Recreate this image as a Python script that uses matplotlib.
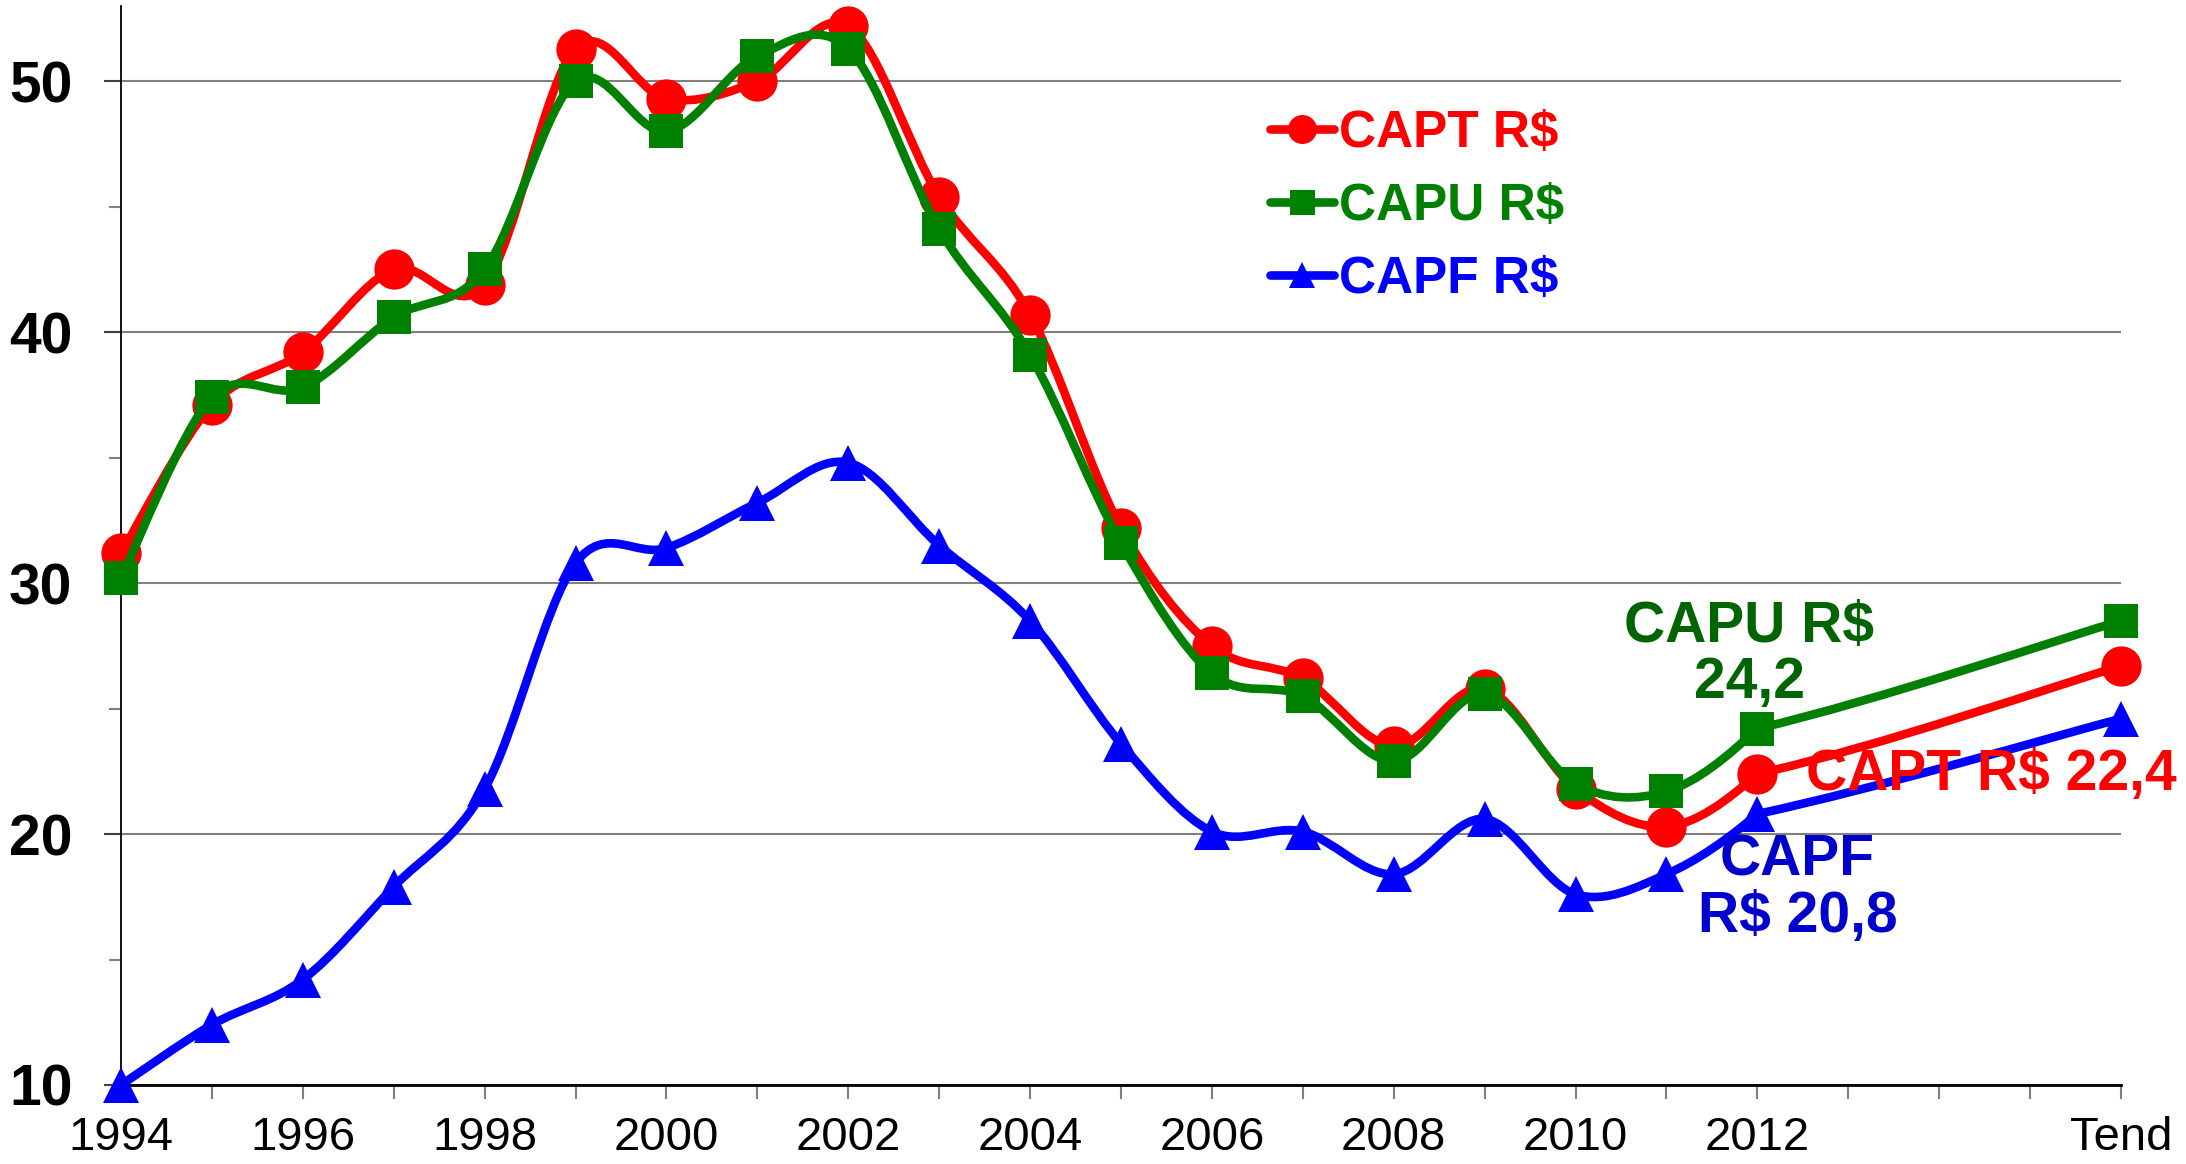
import numpy as np
import matplotlib
matplotlib.use("Agg")
import matplotlib.pyplot as plt
from matplotlib.path import Path
from matplotlib.patches import PathPatch
from matplotlib.lines import Line2D

plt.rcParams['font.family'] = ['Liberation Sans', 'DejaVu Sans']

# categories (2013-2015 are empty slots on the axis)
categories = ['1994', '1995', '1996', '1997', '1998', '1999', '2000', '2001', '2002', '2003',
              '2004', '2005', '2006', '2007', '2008', '2009', '2010', '2011', '2012',
              '2013', '2014', '2015', 'Tend']
tick_labels = ['1994', '', '1996', '', '1998', '', '2000', '', '2002', '', '2004', '', '2006', '',
               '2008', '', '2010', '', '2012', '', '', '', 'Tend']

capt = [31.2, 37.1, 39.2, 42.5, 41.9, 51.3, 49.3, 50.0, 52.2, 45.4, 40.7, 32.2, 27.5, 26.2,
        23.5, 25.8, 21.8, 20.3, 22.4, None, None, None, 26.7]
capu = [30.2, 37.4, 37.8, 40.6, 42.5, 50.0, 48.0, 51.0, 51.3, 44.1, 39.1, 31.6, 26.4, 25.5,
        22.9, 25.6, 22.0, 21.7, 24.2, None, None, None, 28.5]
capf = [10.0, 12.4, 14.2, 17.9, 21.8, 30.8, 31.4, 33.2, 34.8, 31.5, 28.5, 23.6, 20.1, 20.1,
        18.4, 20.6, 17.6, 18.4, 20.8, None, None, None, 24.6]

series = [('CAPT R$', capt, '#FF0000', 'o', 29),
          ('CAPU R$', capu, '#008000', 's', 25),
          ('CAPF R$', capf, '#0000FF', '^', 26)]


def smooth_path(xs, ys):
    # excel-like smoothed line: bezier control points worked out in point-number space,
    # then stretched over each segment's real width (matters across the empty years)
    verts = [(xs[0], ys[0])]
    codes = [Path.MOVETO]
    n = len(xs)
    for i in range(n - 1):
        a = max(i - 1, 0)
        b = min(i + 2, n - 1)
        w = xs[i + 1] - xs[i]
        c1 = (xs[i] + w * (i + 1 - a) / 6, ys[i] + (ys[i + 1] - ys[a]) / 6)
        c2 = (xs[i + 1] - w * (b - i) / 6, ys[i + 1] - (ys[b] - ys[i]) / 6)
        verts += [c1, c2, (xs[i + 1], ys[i + 1])]
        codes += [Path.CURVE4] * 3
    return Path(verts, codes)


fig = plt.figure(figsize=(21.86, 11.64), dpi=100)
ax = fig.add_axes([121 / 2186, 79 / 1164, 2000 / 2186, 1079 / 1164])

x_all = np.arange(len(categories))
handles = []
for k, (name, vals, color, marker, ms) in enumerate(series):
    v = np.array([np.nan if a is None else a for a in vals], dtype=float)
    ok = ~np.isnan(v)
    xs, ys = x_all[ok], v[ok]
    patch = PathPatch(smooth_path(xs, ys), facecolor='none', edgecolor=color, lw=6.2,
                      capstyle='round', joinstyle='round', zorder=3 + k, clip_on=False)
    ax.add_patch(patch)
    ax.plot(xs, ys, ls='none', marker=marker, markersize=ms, color=color,
            markeredgewidth=0, zorder=3.5 + k, clip_on=False)
    handles.append(Line2D([], [], color=color, lw=6.2, marker=marker, markersize=ms * 0.72,
                          markeredgewidth=0, solid_capstyle='round', label=name))

ax.set_xlim(0, len(categories) - 1)
ax.set_ylim(10, 53)

ax.set_xticks(x_all)
ax.set_xticklabels(tick_labels, fontsize=34)
ax.tick_params(axis='x', length=10, width=1.5, color='#808080', pad=12)

ax.set_yticks([10, 20, 30, 40, 50])
ax.set_yticklabels(['10', '20', '30', '40', '50'], fontsize=41, fontweight='bold')
ax.set_yticks([15, 25, 35, 45], minor=True)
ax.tick_params(axis='y', which='major', length=12, width=1.5, color='#404040', pad=23)
ax.tick_params(axis='y', which='minor', length=8.5, width=1.5, color='#808080')

ax.yaxis.grid(True, which='major', color='#808080', lw=1.5)
ax.set_axisbelow(True)
for s in ['top', 'right']:
    ax.spines[s].set_visible(False)
ax.spines['left'].set_linewidth(1.3)
ax.spines['bottom'].set_linewidth(2)

leg = ax.legend(handles=handles, loc='upper left', bbox_to_anchor=(0.5745, 0.905),
                frameon=False, prop={'weight': 'bold', 'size': 37},
                labelcolor='linecolor', handlelength=1.25, handletextpad=0.1,
                labelspacing=0.47, borderpad=0, borderaxespad=0)

# end-of-series labels (va='baseline' sits on the last line)
ax.text(17.91, 25.42, 'CAPU R$\n24,2', color='#006400', fontsize=41, fontweight='bold',
        ha='center', va='baseline', multialignment='center', linespacing=1.05, zorder=8)
ax.text(18.53, 21.75, 'CAPT R$ 22,4', color='#FF0000', fontsize=41, fontweight='bold',
        ha='left', va='baseline', zorder=8)
ax.text(18.44, 16.1, 'CAPF\nR$ 20,8', color='#0000CC', fontsize=41, fontweight='bold',
        ha='center', va='baseline', multialignment='center', linespacing=1.05, zorder=8)

fig.savefig('out.png', dpi=100)
